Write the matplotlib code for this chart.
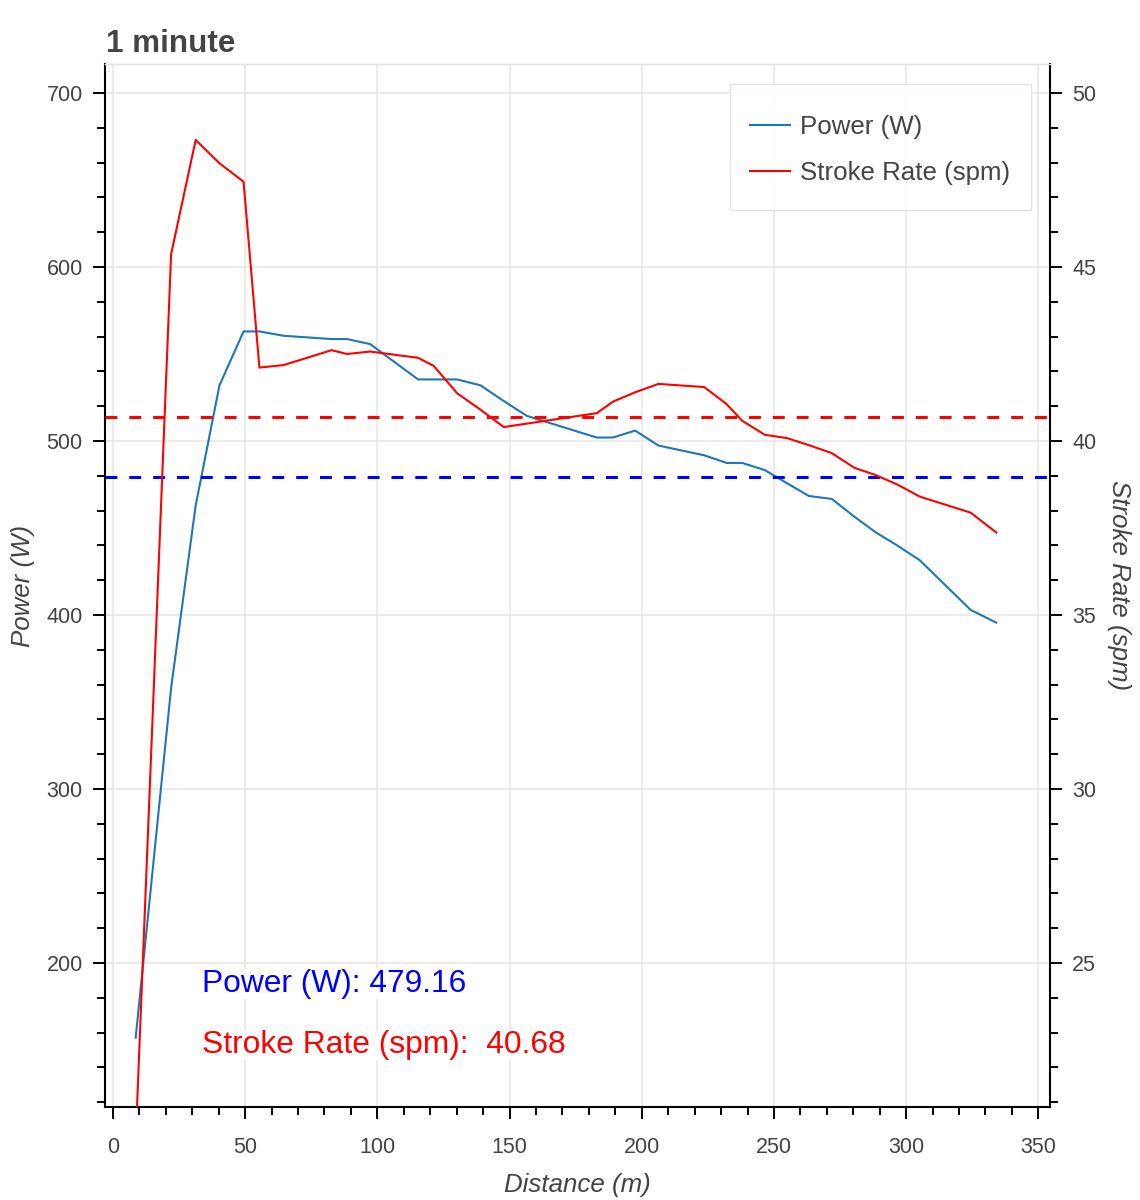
import matplotlib
matplotlib.use('Agg')
import matplotlib.pyplot as plt
from matplotlib.patches import Rectangle
from matplotlib.ticker import MultipleLocator

# values
distance = [8.6, 22.0, 31.3, 40.3, 49.4, 55.4, 64.5, 82.7, 88.5, 97.3,
            115.4, 121.3, 130.2, 139.0, 147.8, 156.6, 183.0, 189.1, 197.5,
            206.3, 223.6, 232.1, 238.0, 246.5, 255.1, 263.2, 271.9, 280.4,
            288.5, 296.6, 305.2, 324.4, 334.1]  # m
power = [157, 358, 463, 532, 563, 563, 560.5, 558.6, 558.6, 555.7,
         535.4, 535.4, 535.4, 532, 523, 514.4, 502, 502, 506,
         497.4, 491.8, 487.4, 487.4, 483.3, 475.6, 468.4, 466.7, 456.5,
         447.5, 440, 431.4, 402.9, 395.6]  # W
stroke_rate = [19.9, 45.37, 48.65, 47.98, 47.45, 42.11, 42.18, 42.61, 42.5, 42.57,
               42.39, 42.16, 41.37, 40.9, 40.40, 40.5, 40.80, 41.13, 41.40,
               41.64, 41.55, 41.06, 40.58, 40.18, 40.08, 39.88, 39.65, 39.23,
               39.02, 38.75, 38.40, 37.94, 37.37]  # spm
power_avg = 479.16
spm_avg = 40.68

title = '1 minute'
GREY = '#444444'
GRID = '#e5e5e5'

plt.rcParams['font.family'] = ['Liberation Sans', 'DejaVu Sans']

fig = plt.figure(figsize=(11.4, 12), dpi=100)
ax = fig.add_axes([105/1140, 1 - 1107/1200, 945/1140, 1043/1200])
ax2 = ax.twinx()

# lines
l1, = ax.plot(distance, power, color='#1f77b4', lw=1.5, label='Power (W)')
ax.axhline(power_avg, color='#0000ff', lw=2.2, dashes=(3.9, 3.9))
l2, = ax2.plot(distance, stroke_rate, color='red', lw=1.5, label='Stroke Rate (spm)')
ax2.axhline(spm_avg, color='#ff0000', lw=2.2, dashes=(3.9, 3.9))

# ranges
ax.set_xlim(-3.0, 354.4)
ax.set_ylim(117.2, 716.7)
ax2.set_ylim(20.862, 50.833)

ax.xaxis.set_major_locator(MultipleLocator(50))
ax.xaxis.set_minor_locator(MultipleLocator(10))
ax.yaxis.set_major_locator(MultipleLocator(100))
ax.yaxis.set_minor_locator(MultipleLocator(20))
ax2.yaxis.set_major_locator(MultipleLocator(5))
ax2.yaxis.set_minor_locator(MultipleLocator(1))

ax.grid(True, which='major', color=GRID, lw=1.1)
ax.set_axisbelow(True)

for a in (ax, ax2):
    a.tick_params(which='major', direction='out', length=8.6, width=1.4,
                  labelsize=15.5, labelcolor=GREY, pad=7.5)
    a.tick_params(which='minor', direction='out', length=5.8, width=1.4)
    a.spines['top'].set_color(GRID)
    a.spines['top'].set_linewidth(1.0)
    a.spines['left'].set_linewidth(1.5)
    a.spines['bottom'].set_linewidth(1.5)
    a.spines['right'].set_linewidth(1.5)
ax.tick_params(axis='x', pad=13)
ax.spines['right'].set_visible(False)
ax2.spines['left'].set_visible(False)
ax2.spines['bottom'].set_visible(False)

# axis labels
ax.set_xlabel('Distance (m)', fontsize=18.6, style='italic', color=GREY, va='center')
ax.xaxis.set_label_coords(0.5, -0.0749)
ax.set_ylabel('Power (W)', fontsize=18.6, style='italic', color=GREY, va='center')
ax.yaxis.set_label_coords(-0.0868, 0.5)
ax2.set_ylabel('Stroke Rate (spm)', fontsize=18.6, style='italic', color=GREY,
               rotation=270, va='center')
ax2.yaxis.set_label_coords(1.0735, 0.5)

fig.text(106/1140, 1 - 51.7/1200, title, fontsize=22.6, fontweight='bold',
         color=GREY, va='baseline', ha='left')

# legend: box drawn by hand, bokeh pads more vertically than sideways
ax2.add_patch(Rectangle((0.6614, 0.86), 0.9799 - 0.6614, 0.9808 - 0.86,
                        transform=ax2.transAxes, facecolor='white', alpha=0.95,
                        edgecolor='none', zorder=4.5))
ax2.add_patch(Rectangle((0.6614, 0.86), 0.9799 - 0.6614, 0.9808 - 0.86,
                        transform=ax2.transAxes, facecolor='none',
                        edgecolor=GRID, lw=1.0, zorder=4.6))
leg = ax2.legend(handles=[l1, l2], loc='upper left', bbox_to_anchor=(0.6614, 0.9703),
                 borderaxespad=0, fontsize=18.6, handlelength=1.55, handletextpad=0.39,
                 borderpad=0.775, labelspacing=0.86, frameon=False)
for t in leg.get_texts():
    t.set_color(GREY)

# averages
box = dict(facecolor='white', edgecolor='none', pad=0)
ax2.text(0.1024, 0.1107, 'Power (W): {:.2f}'.format(power_avg), transform=ax2.transAxes,
         fontsize=22.9, color='#0000ff', va='baseline', ha='left', bbox=box, zorder=5)
ax2.text(0.1024, 0.0521, 'Stroke Rate (spm):  {:.2f}'.format(spm_avg), transform=ax2.transAxes,
         fontsize=22.9, color='#ff0000', va='baseline', ha='left', bbox=box, zorder=5)

fig.savefig('out.png', dpi=100)
